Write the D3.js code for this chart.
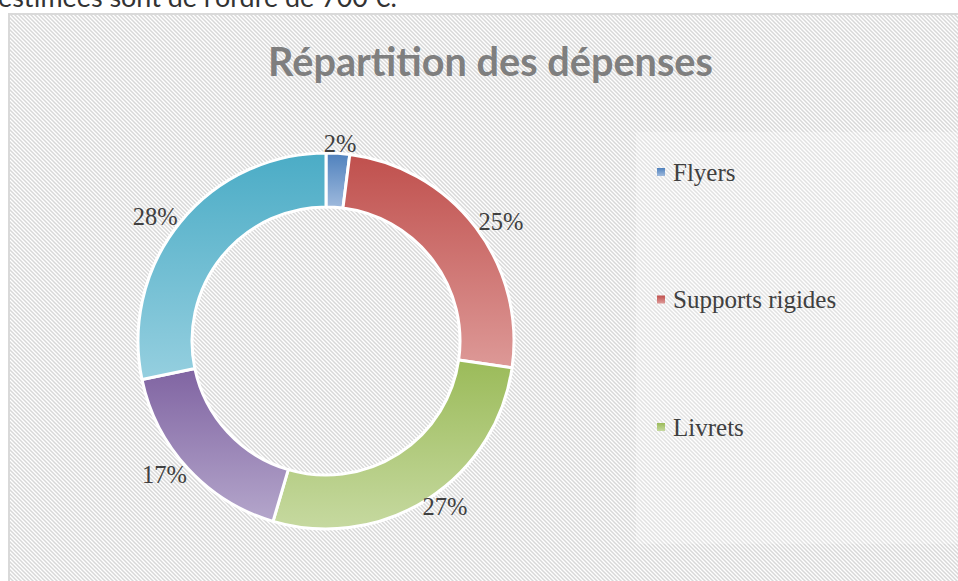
<!DOCTYPE html>
<html>
<head>
<meta charset="utf-8">
<script src="https://cdn.jsdelivr.net/npm/d3@7"></script>
<style>
  html, body { margin: 0; padding: 0; background: #ffffff; }
  svg { display: block; }
</style>
</head>
<body>
<svg id="chart" width="958" height="581"></svg>
<script>
// ---- data ----
const categories = ["Flyers", "Supports rigides", "Livrets", "Série 4", "Série 5"];
const values = [2, 25, 27, 17, 28];
const topColors = ["#4f81bd", "#c0504d", "#9bbb59", "#8064a2", "#4bacc6"];
const bottomColors = ["#9fbadd", "#dd9997", "#c6d9a0", "#b4a6cb", "#95cfdf"];
const legendShown = 3; // only the first three entries are visible in the legend
const titleText = "Répartition des dépenses";
const introText = "estimées sont de l'ordre de 700 €.";

// ---- layout ----
const W = 958, H = 581;
const cx = 326, cy = 341, rOuter = 188, rInner = 134;
const svg = d3.select("#chart");
const defs = svg.append("defs");

// hatch pattern
const pat = defs.append("pattern")
  .attr("id", "hatch").attr("patternUnits", "userSpaceOnUse")
  .attr("width", 4).attr("height", 4);
pat.append("rect").attr("width", 4).attr("height", 4).attr("fill", "#ffffff");
pat.append("path")
  .attr("d", "M-1,-1 L5,5 M-1,3 L1,5 M3,-1 L5,1")
  .attr("stroke", "#d8d8d8").attr("stroke-width", 1.5);

// gradients
categories.forEach((c, i) => {
  const g = defs.append("linearGradient").attr("id", "grad" + i)
    .attr("x1", 0).attr("y1", 0).attr("x2", 0).attr("y2", 1);
  g.append("stop").attr("offset", "0%").attr("stop-color", topColors[i]);
  g.append("stop").attr("offset", "100%").attr("stop-color", bottomColors[i]);
});

// intro text (cut off at top, as in the reference)
const intro = svg.append("text")
  .attr("x", -2).attr("y", 7)
  .attr("font-family", "Lato, 'Open Sans', sans-serif")
  .attr("font-size", 22).attr("fill", "#333333")
  .text(introText);
{
  const len = intro.node().getComputedTextLength();
  intro.attr("font-size", 22 * 399 / len);
}

// chart frame
svg.append("rect")
  .attr("x", 9).attr("y", 14).attr("width", W + 20).attr("height", H + 20)
  .attr("fill", "url(#hatch)")
  .attr("stroke", "#d9d9d9").attr("stroke-width", 2);

// legend area (slightly lighter)
svg.append("rect")
  .attr("x", 636).attr("y", 132).attr("width", W - 636 + 10).attr("height", 544 - 132)
  .attr("fill", "#ffffff").attr("fill-opacity", 0.25);

// title
const title = svg.append("text")
  .attr("x", 490.5).attr("y", 76)
  .attr("text-anchor", "middle")
  .attr("font-family", "Lato, 'Open Sans', sans-serif")
  .attr("font-weight", "bold")
  .attr("font-size", 36).attr("fill", "#7f7f7f")
  .text(titleText);
{
  const len = title.node().getComputedTextLength();
  title.attr("font-size", 36 * 445 / len);
}

// donut
const total = d3.sum(values);
const pie = d3.pie().sort(null).value(d => d)(values);
const arc = d3.arc().innerRadius(rInner).outerRadius(rOuter);
const g = svg.append("g").attr("transform", `translate(${cx},${cy})`);
g.selectAll("path.slice").data(pie).join("path")
  .attr("class", "slice")
  .attr("d", arc)
  .attr("fill", (d, i) => `url(#grad${i})`)
  .attr("stroke", "#ffffff").attr("stroke-width", 3)
  .attr("stroke-linejoin", "round");

// labels
const fmt = d3.format(".0%");
const rxLab = 220, ryLab = 190;
const mid = d => (d.startAngle + d.endAngle) / 2;
g.selectAll("text.lab").data(pie).join("text")
  .attr("class", "lab")
  .attr("x", d => rxLab * Math.sin(mid(d)))
  .attr("y", d => -ryLab * Math.cos(mid(d)) - 7 * Math.cos(mid(d)) + 8)
  .attr("text-anchor", "middle")
  .attr("font-family", "'Liberation Serif', serif")
  .attr("font-size", 24.5)
  .attr("fill", "#404040")
  .text(d => fmt(d.value / total));

// legend
const legY = d3.scaleLinear().domain([0, 1]).range([172, 299.5]);
const leg = svg.append("g");
const items = leg.selectAll("g").data(categories.slice(0, legendShown)).join("g")
  .attr("transform", (d, i) => `translate(657,${legY(i)})`);
items.append("rect")
  .attr("x", 0).attr("y", -4).attr("width", 8).attr("height", 8)
  .attr("fill", (d, i) => `url(#grad${i})`);
items.append("text")
  .attr("x", 16).attr("y", 8.5)
  .attr("font-family", "'Liberation Serif', serif")
  .attr("font-size", 25)
  .attr("fill", "#404040")
  .text(d => d);
</script>
</body>
</html>
